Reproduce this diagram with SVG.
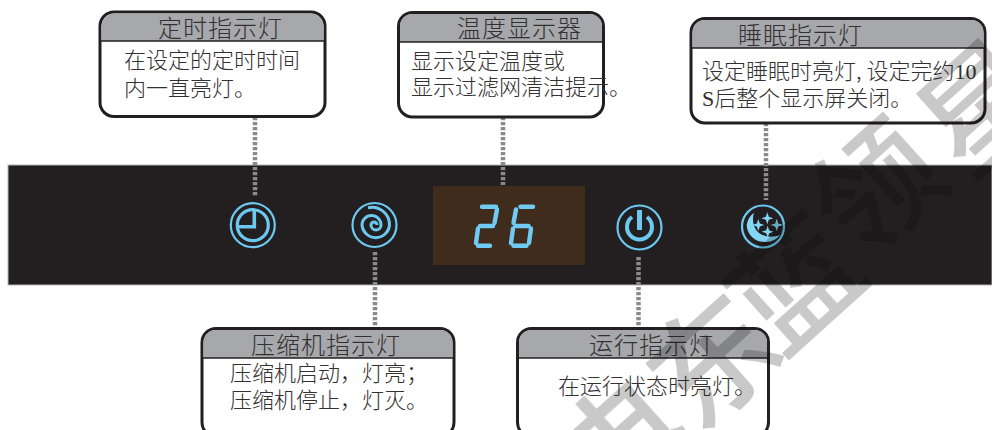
<svg xmlns="http://www.w3.org/2000/svg" width="992" height="430" viewBox="0 0 992 430">
<style>
text{font-family:"Noto Sans CJK SC","Liberation Sans",sans-serif;font-weight:300;fill:#333031}
.t{font-size:24px;letter-spacing:1px}
.b{font-size:22px}
.box{fill:#fff;stroke:#231f20;stroke-width:3}
.hd{fill:#a6a8ab}
.hl{stroke:#231f20;stroke-width:1.5;fill:none}
.dot{stroke:#8a8a8c;stroke-width:4.500;stroke-dasharray:3.200 1.800;fill:none}
.ring{fill:none;stroke:#6cc8ef;stroke-width:2.200}
.ic{fill:none;stroke:#6cc8ef;stroke-width:3.200}
.seg{stroke:#6fcbf3;stroke-width:4.400;stroke-linecap:round;fill:none}
.s{fill:#84d6f7}
.wm{font-family:"Noto Sans CJK SC",sans-serif;font-weight:500;font-size:124px;fill:#c9c9c9;text-anchor:middle}
</style>
<rect width="992" height="430" fill="#fff"/>
<g id="panel">
<rect x="8" y="165" width="984" height="120" fill="#231f20" stroke="#b5b5b5" stroke-width="1"/>
<rect x="433" y="186" width="152" height="79" fill="#3f2c1c"/>
</g>
<g id="connectors">
<path class="dot" d="M255 117V196"/>
<path class="dot" d="M503 117V185"/>
<path class="dot" d="M766 123V200"/>
<path class="dot" d="M375 252V328"/>
<path class="dot" d="M638.500 257V328"/>
</g>
<g id="display">
<path class="seg" d="M482 206.700H496M497 209.500L494.500 223M480 226H493M478 228.500L476 243M478 245.700H490"/>
<path class="seg" d="M520.500 206.700H533M516 209.500L513.500 223M515.500 226H528.500M513 228.500L511 243M531 228.500L529 243M513.500 245.700H526.500"/>
</g>
<g id="icon-timer">
<circle class="ring" cx="252.800" cy="225.200" r="22"/>
<circle class="ic" cx="252.800" cy="225.200" r="15.500"/>
<path class="ic" style="stroke-width:3.600" d="M254.300 210V226.700H238"/>
</g>
<g id="icon-compressor">
<circle class="ring" cx="374.500" cy="225" r="22"/>
<path class="ic" style="stroke-width:3" d="M377 225A3 3 0 0 0 371 225A5 5 0 0 0 381 225A9.500 9.500 0 0 0 362 225A13.800 13.800 0 0 0 389.500 225A17.500 17.500 0 0 0 368 207.800"/>
</g>
<g id="icon-power">
<circle class="ring" cx="639.500" cy="227.500" r="22"/>
<path class="ic" style="stroke-width:4" d="M632 217A12.500 12.500 0 1 0 647 217"/>
<rect x="637" y="210" width="5" height="20" fill="#6cc8ef"/>
</g>
<g id="icon-sleep">
<circle class="ring" cx="763" cy="226.500" r="21"/>
<path class="s" d="M754 212.700A18 18 0 0 0 746.700 225A17 17 0 0 0 763.300 241.700A18 18 0 0 0 780 235C772 238 762 237 757 231C753 226 752 219 754 212.700Z"/>
<path class="s" d="M767.300 212.300L768.800 216.800L773.300 218.300L768.800 219.800L767.300 224.300L765.800 219.800L761.300 218.300L765.800 216.800Z"/>
<path class="s" d="M758.300 219L759.800 223.500L764.300 225L759.800 226.500L758.300 231L756.800 226.500L752.300 225L756.800 223.500Z"/>
<path class="s" d="M776.700 219L778.200 223.500L782.700 225L778.200 226.500L776.700 231L775.200 226.500L770.700 225L775.200 223.500Z"/>
<path class="s" d="M767.700 225.700L769.200 230.200L773.700 231.700L769.200 233.200L767.700 237.700L766.200 233.200L761.700 231.700L766.200 230.200Z"/>
</g>
<g id="node-timer">
<rect class="box" x="100" y="12" width="225" height="104.500" rx="14"/>
<path class="hd" d="M101.500 41V26A13 13 0 0 1 114 13.500H311A13 13 0 0 1 323.500 26V41Z"/>
<path class="hl" d="M100 41H325"/>
<text class="t" x="158" y="37">定时指示灯</text>
<text class="b" x="124" y="68">在设定的定时时间</text>
<text class="b" x="124" y="96">内一直亮灯。</text>
</g>
<g id="node-display">
<rect class="box" x="398.500" y="12.500" width="205" height="104.500" rx="14"/>
<path class="hd" d="M400 42V26A12 12 0 0 1 412 14H590A12 12 0 0 1 602 26V42Z"/>
<path class="hl" d="M398.500 42H603.500"/>
<text class="t" x="457" y="37">温度显示器</text>
<text class="b" x="411" y="69">显示设定温度或</text>
<text class="b" x="411" y="95">显示过滤网清洁提示。</text>
</g>
<g id="node-sleep">
<rect class="box" x="691" y="18.500" width="294" height="104.500" rx="14"/>
<path class="hd" d="M692.500 48V32A12 12 0 0 1 705 20H971A12 12 0 0 1 983.500 32V48Z"/>
<path class="hl" d="M691 48H985"/>
<text class="t" x="738" y="44">睡眠指示灯</text>
<text class="b" x="702" y="79">设定睡眠时亮灯,<tspan dx="5">设定完约</tspan><tspan style="font-family:'Liberation Serif',serif;font-weight:400">10</tspan></text>
<text class="b" x="702" y="106"><tspan style="font-family:'Liberation Serif',serif;font-weight:400">S</tspan>后整个显示屏关闭。</text>
</g>
<g id="node-compressor">
<rect class="box" x="202" y="328.500" width="252" height="108" rx="14"/>
<path class="hd" d="M203.500 358V342A12 12 0 0 1 216 330H440A12 12 0 0 1 452.500 342V358Z"/>
<path class="hl" d="M202 358H454"/>
<text class="t" x="251" y="354">压缩机指示灯</text>
<text class="b" x="230" y="381">压缩机启动，灯亮；</text>
<text class="b" x="230" y="408">压缩机停止，灯灭。</text>
</g>
<g id="node-run">
<rect class="box" x="517.500" y="328.500" width="251" height="108" rx="14"/>
<path class="hd" d="M519 358V342A12 12 0 0 1 531 330H755A12 12 0 0 1 767 342V358Z"/>
<path class="hl" d="M517.500 358H768.500"/>
<text class="t" x="589" y="354">运行指示灯</text>
<text class="b" x="558" y="394">在运行状态时亮灯。</text>
</g>
<g id="watermark" style="mix-blend-mode:multiply">
<text class="wm" transform="translate(985 108) rotate(-42)" y="43">星</text>
<text class="wm" transform="translate(878 190) rotate(-42)" y="43">领</text>
<text class="wm" transform="translate(797 285) rotate(-42)" y="43">蓝</text>
<text class="wm" transform="translate(715 362) rotate(-42)" y="43">东</text>
<text class="wm" transform="translate(622 445) rotate(-42)" y="43">电</text>
</g>
</svg>
